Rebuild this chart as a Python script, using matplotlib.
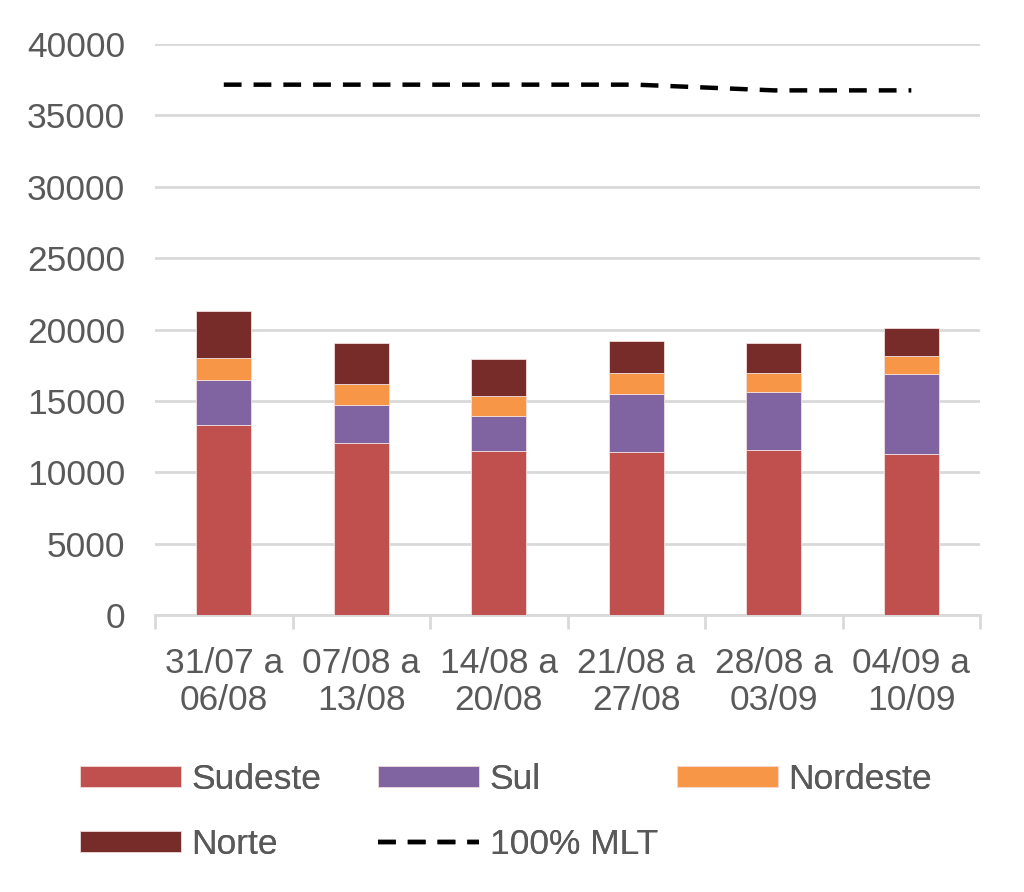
import numpy as np
import matplotlib
matplotlib.use("Agg")
import matplotlib.pyplot as plt

# data
semanas = ['31/07 a\n06/08', '07/08 a\n13/08', '14/08 a\n20/08',
           '21/08 a\n27/08', '28/08 a\n03/09', '04/09 a\n10/09']
sudeste = [13310, 12040, 11480, 11410, 11550, 11310]
sul = [3120, 2700, 2460, 4100, 4080, 5540]
nordeste = [1600, 1460, 1410, 1410, 1340, 1270]
norte = [3240, 2885, 2610, 2280, 2110, 1990]
mlt = [37150, 37150, 37150, 37150, 36750, 36750]

cores = {'Sudeste': '#C0504D', 'Sul': '#8064A2',
         'Nordeste': '#F79646', 'Norte': '#772C2A'}
cinza = '#595959'
fs = 25.5

plt.rcParams['font.family'] = ['Liberation Sans', 'DejaVu Sans']

fig = plt.figure(figsize=(10.24, 8.92), dpi=100)
ax = fig.add_axes([0.1514, 0.3105, 0.8057, 0.6402])

x = np.arange(len(semanas))
w = 0.4
base = np.zeros(len(semanas))
barras = {}
for nome, vals in [('Sudeste', sudeste), ('Sul', sul),
                   ('Nordeste', nordeste), ('Norte', norte)]:
    barras[nome] = ax.bar(x, vals, w, bottom=base, color=cores[nome], label=nome,
                          edgecolor='#f2dede', linewidth=0.6, zorder=3)
    base += np.array(vals)

linha, = ax.plot(x, mlt, color='black', linestyle=(0, (4, 2.7)),
                 linewidth=3.2, label='100% MLT', zorder=4)

ax.set_xlim(-0.5, len(semanas) - 0.5)
ax.set_ylim(0, 40000)
ax.set_yticks(np.arange(0, 40001, 5000))
ax.yaxis.grid(True, color='#D9D9D9', linewidth=2, zorder=0)
ax.set_axisbelow(True)

for s in ['top', 'right', 'left']:
    ax.spines[s].set_visible(False)
ax.spines['bottom'].set_color('#D9D9D9')
ax.spines['bottom'].set_linewidth(2)

ax.set_xticks(x)
ax.set_xticklabels(semanas, fontsize=fs, color=cinza, linespacing=1.15)
ax.tick_params(axis='x', length=0, pad=23)
ax.set_xticks(np.arange(-0.5, len(semanas)), minor=True)
ax.tick_params(axis='x', which='minor', length=10, width=2, color='#D9D9D9')
ax.tick_params(axis='y', length=0, labelsize=fs, labelcolor=cinza, pad=21.5)

# legend: three fixed-width columns like the original
colunas = [(80, [barras['Sudeste'], barras['Norte']], ['Sudeste', 'Norte']),
           (378, [barras['Sul'], linha], ['Sul', '100% MLT']),
           (677, [barras['Nordeste']], ['Nordeste'])]
for xpix, hs, ls in colunas:
    leg = fig.legend(hs, ls, loc='upper left',
                     bbox_to_anchor=(xpix / 1024, 1 - 763 / 892),
                     frameon=False, fontsize=fs, labelcolor=cinza,
                     handlelength=2.85, handleheight=0.55, handletextpad=0.3,
                     labelspacing=0.9, borderpad=0, borderaxespad=0)
    fig.add_artist(leg)

fig.savefig('out.png', dpi=100)
